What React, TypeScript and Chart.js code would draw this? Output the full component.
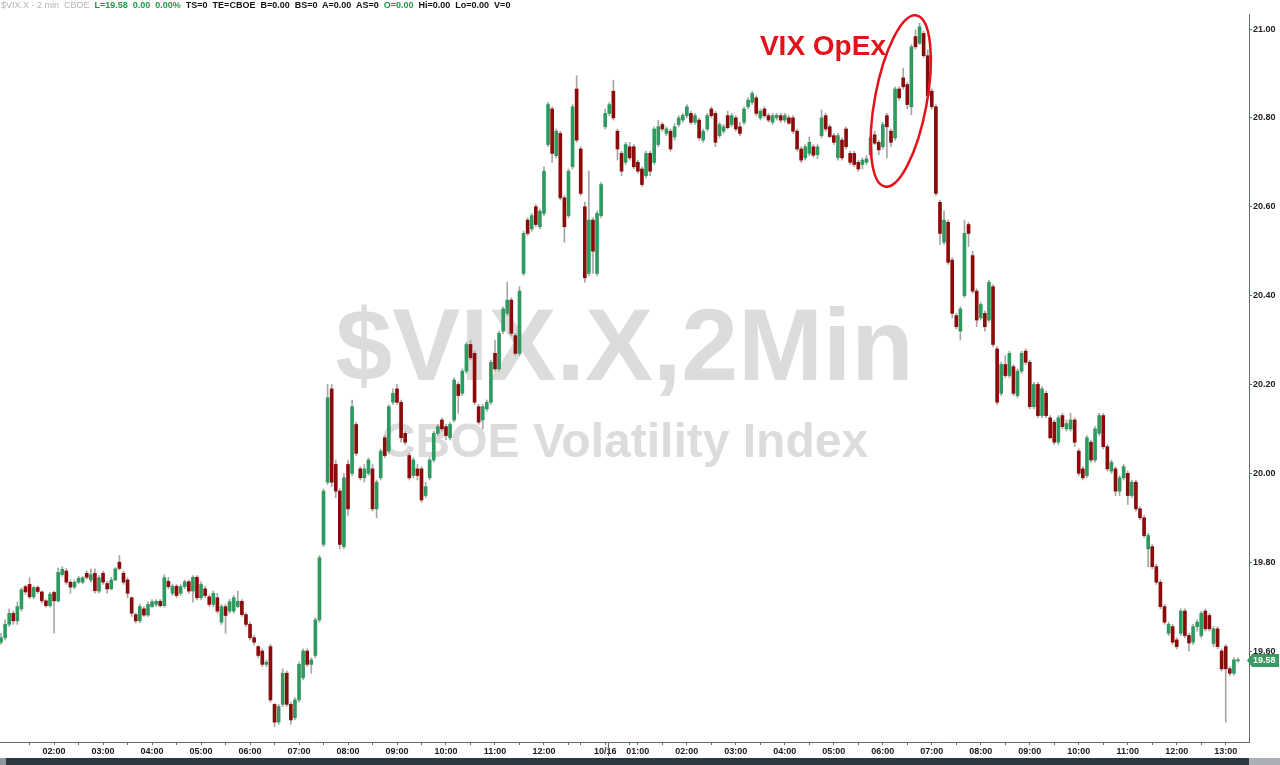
import React, { useEffect, useRef } from 'react';
import { Chart, registerables } from 'chart.js';

Chart.register(...registerables);

// ---- data: 5-minute candles (index 0 = 10/15 00:55, index 148 = 10/16 00:20) ----
const opens = [
  19.62, 19.63, 19.66, 19.685, 19.668, 19.695, 19.745, 19.75, 19.722, 19.743,
  19.733, 19.713, 19.702, 19.732, 19.713, 19.772, 19.78, 19.755, 19.744, 19.755,
  19.755, 19.775, 19.76, 19.775, 19.735, 19.775, 19.752, 19.74, 19.76, 19.80,
  19.775, 19.76, 19.72, 19.682, 19.668, 19.695, 19.681, 19.70, 19.705, 19.712,
  19.702, 19.757, 19.73, 19.746, 19.73, 19.745, 19.756, 19.735, 19.766, 19.72,
  19.74, 19.722, 19.705, 19.72, 19.665, 19.70, 19.69, 19.69, 19.70, 19.712,
  19.682, 19.66, 19.63, 19.61, 19.60, 19.57, 19.61, 19.48, 19.44, 19.48,
  19.55, 19.48, 19.45, 19.49, 19.54, 19.60, 19.57, 19.59, 19.67, 19.84,
  19.98, 20.19, 20.02, 19.96, 19.835, 20.02, 20.0, 20.11, 20.01, 19.99,
  20.0, 20.01, 19.92, 19.99, 20.08, 20.05, 20.16, 20.19, 20.16, 20.09,
  20.04, 19.995, 20.01, 20.01, 19.95, 19.99, 20.03, 20.09, 20.12, 20.105,
  20.08, 20.12, 20.20, 20.18, 20.23, 20.29, 20.27, 20.15, 20.12, 20.145,
  20.16, 20.27, 20.235, 20.32, 20.36, 20.39, 20.31, 20.27, 20.45, 20.57,
  20.55, 20.60, 20.555, 20.585, 20.74, 20.82, 20.715, 20.765, 20.62, 20.58,
  20.69, 20.865, 20.73, 20.60, 20.45, 20.57, 20.45, 20.58, 20.78, 20.81,
  20.86, 20.77, 20.72, 20.70, 20.735, 20.735, 20.70, 20.685, 20.67, 20.72,
  20.70, 20.74, 20.785, 20.765, 20.77, 20.757, 20.785, 20.795, 20.805, 20.81,
  20.79, 20.795, 20.75, 20.775, 20.82, 20.81, 20.76, 20.77, 20.805, 20.785,
  20.80, 20.78, 20.79, 20.825, 20.835, 20.845, 20.80, 20.82, 20.805, 20.79,
  20.80, 20.805, 20.795, 20.80, 20.80, 20.77, 20.73, 20.71, 20.72, 20.735,
  20.717, 20.76, 20.805, 20.78, 20.76, 20.71, 20.75, 20.775, 20.72, 20.72,
  20.70, 20.695, 20.70, 20.717, 20.762, 20.745, 20.735, 20.805, 20.77, 20.755,
  20.865, 20.89, 20.875, 20.825, 20.983, 20.968, 20.99, 20.94, 20.86, 20.825,
  20.61, 20.52, 20.565, 20.48, 20.355, 20.32, 20.40, 20.56, 20.49, 20.41,
  20.35, 20.36, 20.345, 20.42, 20.28, 20.18, 20.245, 20.22, 20.24, 20.175,
  20.23, 20.275, 20.25, 20.15, 20.20, 20.13, 20.18, 20.125, 20.115, 20.07,
  20.13, 20.10, 20.10, 20.12, 20.05, 20.01, 19.995, 20.07, 20.03, 20.09,
  20.13, 20.06, 20.005, 20.01, 19.96, 19.99, 20.0, 19.95, 19.98, 19.92,
  19.90, 19.83, 19.835, 19.79, 19.755, 19.70, 19.64, 19.655, 19.625, 19.64,
  19.69, 19.635, 19.62, 19.655, 19.635, 19.69, 19.68, 19.617, 19.65, 19.60,
  19.61, 19.56, 19.55, 19.578,
];

const highs = [
  19.64, 19.67, 19.695, 19.69, 19.71, 19.742, 19.748, 19.765, 19.746, 19.747,
  19.735, 19.716, 19.732, 19.735, 19.787, 19.79, 19.786, 19.76, 19.76, 19.768,
  19.768, 19.78, 19.785, 19.785, 19.77, 19.78, 19.757, 19.766, 19.788, 19.815,
  19.78, 19.765, 19.722, 19.686, 19.706, 19.70, 19.711, 19.716, 19.716, 19.716,
  19.772, 19.766, 19.75, 19.75, 19.75, 19.76, 19.76, 19.77, 19.77, 19.756,
  19.746, 19.726, 19.735, 19.73, 19.705, 19.705, 19.716, 19.725, 19.735, 19.716,
  19.686, 19.665, 19.635, 19.612, 19.605, 19.58, 19.615, 19.482, 19.48, 19.56,
  19.555, 19.485, 19.495, 19.575, 19.605, 19.605, 19.585, 19.675, 19.815, 19.965,
  20.20, 20.20, 20.03, 19.965, 20.0, 20.03, 20.165, 20.115, 20.015, 20.02,
  20.035, 20.02, 19.985, 20.055, 20.085, 20.155, 20.19, 20.20, 20.165, 20.095,
  20.045, 20.035, 20.02, 20.015, 19.98, 20.035, 20.095, 20.11, 20.125, 20.11,
  20.115, 20.215, 20.205, 20.235, 20.295, 20.30, 20.275, 20.155, 20.155, 20.165,
  20.255, 20.30, 20.32, 20.375, 20.43, 20.395, 20.315, 20.42, 20.545, 20.575,
  20.585, 20.605, 20.595, 20.69, 20.835, 20.825, 20.775, 20.77, 20.625, 20.685,
  20.83, 20.895, 20.735, 20.61, 20.68, 20.575, 20.59, 20.655, 20.82, 20.835,
  20.885, 20.775, 20.725, 20.745, 20.745, 20.74, 20.705, 20.69, 20.725, 20.725,
  20.78, 20.795, 20.79, 20.78, 20.775, 20.787, 20.805, 20.81, 20.83, 20.815,
  20.81, 20.80, 20.775, 20.81, 20.825, 20.815, 20.79, 20.785, 20.815, 20.81,
  20.805, 20.79, 20.825, 20.845, 20.86, 20.85, 20.82, 20.825, 20.81, 20.81,
  20.81, 20.81, 20.81, 20.805, 20.805, 20.775, 20.735, 20.74, 20.757, 20.74,
  20.74, 20.818, 20.81, 20.785, 20.765, 20.765, 20.755, 20.78, 20.725, 20.725,
  20.705, 20.71, 20.715, 20.76, 20.77, 20.75, 20.79, 20.81, 20.775, 20.87,
  20.87, 20.912, 20.88, 20.965, 20.998, 21.013, 20.995, 20.953, 20.865, 20.83,
  20.615, 20.59, 20.57, 20.485, 20.36, 20.375, 20.57, 20.565, 20.50, 20.415,
  20.385, 20.365, 20.435, 20.425, 20.285, 20.25, 20.265, 20.275, 20.245, 20.235,
  20.275, 20.28, 20.255, 20.205, 20.205, 20.195, 20.185, 20.13, 20.12, 20.13,
  20.135, 20.12, 20.135, 20.125, 20.055, 20.015, 20.085, 20.075, 20.105, 20.135,
  20.135, 20.065, 20.03, 20.015, 19.995, 20.02, 20.005, 19.985, 19.985, 19.925,
  19.905, 19.865, 19.84, 19.795, 19.76, 19.705, 19.665, 19.66, 19.63, 19.695,
  19.695, 19.64, 19.66, 19.67, 19.69, 19.695, 19.685, 19.655, 19.655, 19.605,
  19.615, 19.565, 19.585, 19.585,
];

const lows = [
  19.615, 19.625, 19.655, 19.66, 19.66, 19.69, 19.728, 19.718, 19.718, 19.73,
  19.708, 19.699, 19.699, 19.64, 19.71, 19.768, 19.75, 19.73, 19.74, 19.752,
  19.752, 19.762, 19.755, 19.73, 19.73, 19.75, 19.73, 19.738, 19.758, 19.782,
  19.75, 19.72, 19.678, 19.663, 19.664, 19.678, 19.678, 19.698, 19.70, 19.699,
  19.699, 19.74, 19.725, 19.72, 19.725, 19.74, 19.73, 19.71, 19.715, 19.715,
  19.72, 19.70, 19.70, 19.685, 19.66, 19.64, 19.685, 19.685, 19.698, 19.678,
  19.655, 19.625, 19.614, 19.585, 19.565, 19.565, 19.485, 19.43, 19.435, 19.475,
  19.475, 19.435, 19.445, 19.485, 19.535, 19.565, 19.55, 19.585, 19.665, 19.835,
  19.975, 19.97, 19.945, 19.83, 19.83, 19.905, 19.995, 20.04, 19.985, 19.98,
  19.995, 19.915, 19.90, 19.985, 20.035, 20.045, 20.155, 20.155, 20.07, 20.065,
  19.985, 19.99, 19.985, 19.935, 19.945, 19.985, 20.025, 20.085, 20.095, 20.075,
  20.075, 20.115, 20.135, 20.175, 20.225, 20.255, 20.155, 20.11, 20.10, 20.14,
  20.155, 20.23, 20.23, 20.315, 20.355, 20.31, 20.265, 20.265, 20.445, 20.535,
  20.545, 20.555, 20.55, 20.58, 20.735, 20.70, 20.71, 20.615, 20.52, 20.575,
  20.685, 20.745, 20.625, 20.43, 20.445, 20.45, 20.445, 20.575, 20.775, 20.805,
  20.795, 20.705, 20.67, 20.695, 20.705, 20.685, 20.675, 20.645, 20.665, 20.67,
  20.695, 20.735, 20.77, 20.76, 20.725, 20.75, 20.78, 20.79, 20.80, 20.785,
  20.785, 20.75, 20.745, 20.77, 20.80, 20.735, 20.755, 20.765, 20.775, 20.78,
  20.77, 20.76, 20.785, 20.82, 20.83, 20.805, 20.795, 20.80, 20.79, 20.785,
  20.795, 20.79, 20.79, 20.785, 20.765, 20.725, 20.70, 20.705, 20.715, 20.712,
  20.708, 20.755, 20.77, 20.755, 20.74, 20.705, 20.705, 20.73, 20.695, 20.69,
  20.68, 20.685, 20.695, 20.712, 20.74, 20.717, 20.73, 20.71, 20.735, 20.75,
  20.84, 20.865, 20.82, 20.807, 20.955, 20.965, 20.935, 20.845, 20.82, 20.625,
  20.515, 20.515, 20.47, 20.35, 20.325, 20.30, 20.395, 20.51, 20.405, 20.33,
  20.345, 20.32, 20.34, 20.285, 20.155, 20.175, 20.215, 20.215, 20.175, 20.17,
  20.225, 20.245, 20.145, 20.145, 20.125, 20.125, 20.125, 20.078, 20.065, 20.065,
  20.10, 20.095, 20.095, 20.06, 19.995, 19.985, 19.99, 20.025, 20.025, 20.085,
  20.055, 20.005, 20.0, 19.95, 19.95, 19.985, 19.93, 19.945, 19.915, 19.895,
  19.855, 19.79, 19.785, 19.75, 19.695, 19.66, 19.635, 19.615, 19.605, 19.635,
  19.63, 19.60, 19.615, 19.645, 19.63, 19.645, 19.645, 19.61, 19.605, 19.555,
  19.44, 19.545, 19.545, 19.575,
];

const closes = [
  19.63, 19.66, 19.685, 19.668, 19.70, 19.738, 19.733, 19.722, 19.743, 19.734,
  19.713, 19.702, 19.728, 19.713, 19.777, 19.784, 19.755, 19.744, 19.755, 19.764,
  19.765, 19.766, 19.772, 19.736, 19.765, 19.755, 19.74, 19.76, 19.785, 19.786,
  19.755, 19.73, 19.685, 19.668, 19.70, 19.681, 19.705, 19.711, 19.712, 19.702,
  19.765, 19.745, 19.746, 19.725, 19.745, 19.756, 19.735, 19.766, 19.72, 19.75,
  19.725, 19.705, 19.73, 19.69, 19.70, 19.68, 19.711, 19.72, 19.712, 19.682,
  19.66, 19.63, 19.62, 19.59, 19.57, 19.575, 19.49, 19.44, 19.475, 19.55,
  19.48, 19.445, 19.49, 19.57, 19.60, 19.57, 19.58, 19.67, 19.81, 19.96,
  20.17, 19.98, 19.96, 19.84, 19.99, 19.92, 20.15, 20.045, 19.99, 20.01,
  20.03, 19.92, 19.98, 20.05, 20.04, 20.15, 20.18, 20.16, 20.08, 20.07,
  19.99, 20.03, 19.995, 19.94, 19.97, 20.03, 20.09, 20.105, 20.10, 20.085,
  20.11, 20.21, 20.175, 20.23, 20.29, 20.26, 20.16, 20.115, 20.15, 20.16,
  20.25, 20.235, 20.315, 20.37, 20.39, 20.315, 20.27, 20.41, 20.54, 20.54,
  20.58, 20.56, 20.59, 20.68, 20.83, 20.72, 20.77, 20.62, 20.555, 20.68,
  20.825, 20.75, 20.63, 20.44, 20.57, 20.50, 20.585, 20.65, 20.81, 20.83,
  20.80, 20.73, 20.68, 20.74, 20.71, 20.69, 20.68, 20.65, 20.72, 20.68,
  20.775, 20.78, 20.775, 20.775, 20.73, 20.78, 20.80, 20.806, 20.825, 20.79,
  20.805, 20.755, 20.77, 20.805, 20.805, 20.745, 20.785, 20.78, 20.778, 20.805,
  20.775, 20.765, 20.82, 20.84, 20.855, 20.81, 20.815, 20.805, 20.795, 20.805,
  20.806, 20.795, 20.805, 20.788, 20.77, 20.73, 20.705, 20.735, 20.745, 20.716,
  20.735, 20.80, 20.775, 20.758, 20.745, 20.76, 20.71, 20.735, 20.70, 20.695,
  20.685, 20.705, 20.708, 20.755, 20.743, 20.728, 20.785, 20.78, 20.745, 20.865,
  20.845, 20.87, 20.83, 20.96, 20.96, 21.005, 20.94, 20.85, 20.825, 20.63,
  20.54, 20.57, 20.475, 20.36, 20.33, 20.37, 20.54, 20.54, 20.41, 20.345,
  20.38, 20.33, 20.43, 20.29, 20.16, 20.245, 20.22, 20.27, 20.18, 20.23,
  20.27, 20.25, 20.15, 20.20, 20.13, 20.19, 20.13, 20.08, 20.07, 20.125,
  20.105, 20.112, 20.12, 20.07, 20.0, 19.99, 20.08, 20.03, 20.10, 20.13,
  20.06, 20.01, 20.025, 19.96, 19.99, 20.015, 19.95, 19.98, 19.92, 19.90,
  19.86, 19.86, 19.79, 19.755, 19.70, 19.665, 19.66, 19.62, 19.61, 19.69,
  19.635, 19.618, 19.655, 19.665, 19.685, 19.65, 19.65, 19.65, 19.61, 19.56,
  19.56, 19.55, 19.58, 19.58,
];

// time-axis labels and the candle index at which each one falls
const tickLabels = [
  '02:00', '03:00', '04:00', '05:00', '06:00', '07:00', '08:00', '09:00', '10:00', '11:00', '12:00',
  '10/16', '01:00', '02:00', '03:00', '04:00', '05:00', '06:00', '07:00', '08:00', '09:00', '10:00',
  '11:00', '12:00', '13:00',
];
const tickBars = [13, 25, 37, 49, 61, 73, 85, 97, 109, 121, 133, 148, 156, 168, 180, 192, 204, 216, 228, 240, 252, 264, 276, 288, 300];
const dayBreakBar = 148;

const yTicks = [19.6, 19.8, 20.0, 20.2, 20.4, 20.6, 20.8, 21.0];

const watermarkTitle = '$VIX.X,2Min';
const watermarkSubtitle = 'CBOE Volatility Index';
const annotationText = 'VIX OpEx';
const annotationTextAt = { x: 185.9, y: 20.9415 };
const annotationEllipseAt = { x: 220.4, y: 20.838 };

const UP = '#2f9a5f';
const DOWN = '#8b0a0a';
const WICK = '#a6a6a6';
const AXIS = '#62706f';
const FONT = '"Liberation Sans", Arial, sans-serif';

export default function App() {
  const canvasRef = useRef<HTMLCanvasElement | null>(null);

  useEffect(() => {
    const canvas = canvasRef.current;
    if (!canvas) return;

    const maxBar = opens.length + 1.7;
    const minorTicks: number[] = [];
    tickBars.forEach((t) => {
      [t - 6, t + 6].forEach((v) => {
        if (v >= 0 && v <= opens.length + 1 && !tickBars.includes(v) && Math.abs(v - dayBreakBar) > 3 && !minorTicks.includes(v)) {
          minorTicks.push(v);
        }
      });
    });
    const allXTicks = [...tickBars, ...minorTicks].sort((a, b) => a - b);

    const bodyColors = opens.map((o, i) => (closes[i] >= o ? UP : DOWN));

    const backgroundPlugin = {
      id: 'watermark',
      beforeDatasetsDraw(chart: any) {
        const { ctx, chartArea } = chart;
        const cx = (chartArea.left + chartArea.right) / 2;
        const cy = (chartArea.top + chartArea.bottom) / 2;
        ctx.save();
        ctx.fillStyle = '#dcdcdc';
        ctx.textAlign = 'center';
        ctx.textBaseline = 'alphabetic';
        ctx.font = `bold 102px ${FONT}`;
        ctx.fillText(watermarkTitle, cx, cy + 2);
        ctx.font = `bold 48px ${FONT}`;
        ctx.fillText(watermarkSubtitle, cx, cy + 79);
        ctx.restore();
      },
    };

    const overlayPlugin = {
      id: 'overlay',
      afterDatasetsDraw(chart: any) {
        const { ctx } = chart;
        const xs = chart.scales.x;
        const ys = chart.scales.y;
        ctx.save();
        // annotation ellipse
        ctx.strokeStyle = '#e3131b';
        ctx.lineWidth = 2.5;
        ctx.beginPath();
        ctx.ellipse(
          xs.getPixelForValue(annotationEllipseAt.x),
          ys.getPixelForValue(annotationEllipseAt.y),
          26, 87, 0.183, 0, Math.PI * 2
        );
        ctx.stroke();
        // annotation text
        ctx.fillStyle = '#e3131b';
        ctx.font = `bold 28px ${FONT}`;
        ctx.textAlign = 'left';
        ctx.textBaseline = 'alphabetic';
        ctx.fillText(annotationText, xs.getPixelForValue(annotationTextAt.x), ys.getPixelForValue(annotationTextAt.y));
        ctx.restore();
      },
      afterDraw(chart: any) {
        const { ctx, chartArea, width, height } = chart;
        const xs = chart.scales.x;
        const ys = chart.scales.y;
        ctx.save();
        // last price marker
        const last = closes[closes.length - 1];
        const py = Math.round(ys.getPixelForValue(last)) + 0.5;
        const x0 = chartArea.right - 2;
        ctx.fillStyle = '#3a9b62';
        ctx.beginPath();
        ctx.moveTo(x0, py);
        ctx.lineTo(x0 + 5, py - 6.5);
        ctx.lineTo(width - 1, py - 6.5);
        ctx.lineTo(width - 1, py + 6.5);
        ctx.lineTo(x0 + 5, py + 6.5);
        ctx.closePath();
        ctx.fill();
        ctx.fillStyle = '#ffffff';
        ctx.font = `bold 9px ${FONT}`;
        ctx.textAlign = 'left';
        ctx.textBaseline = 'middle';
        ctx.fillText(last.toFixed(2), x0 + 6, py + 0.5);
        // day break divider in the time axis
        const dx = Math.round(xs.getPixelForValue(dayBreakBar + 0.8)) + 0.5;
        ctx.strokeStyle = AXIS;
        ctx.lineWidth = 1;
        ctx.beginPath();
        ctx.moveTo(dx, chartArea.bottom);
        ctx.lineTo(dx, chartArea.bottom + 14);
        ctx.stroke();
        // bottom scroll bar
        ctx.fillStyle = '#2e3842';
        ctx.fillRect(0, height - 7, chartArea.right, 7);
        ctx.fillStyle = '#a9afb4';
        ctx.fillRect(chartArea.right, height - 7, width - chartArea.right, 7);
        ctx.fillStyle = '#8f969c';
        ctx.fillRect(0, height - 7, 6, 7);
        ctx.restore();
      },
    };

    const chart = new Chart(canvas, {
      type: 'bar',
      data: {
        datasets: [
          {
            label: 'body',
            data: opens.map((o, i) => ({ x: i, y: [o, closes[i]] })) as any,
            backgroundColor: bodyColors,
            borderWidth: 0,
            barThickness: 3,
            minBarLength: 1,
            grouped: false,
            order: 1,
          },
          {
            label: 'wick',
            data: lows.map((l, i) => ({ x: i, y: [l, highs[i]] })) as any,
            backgroundColor: WICK,
            borderWidth: 0,
            barThickness: 1,
            grouped: false,
            order: 2,
          },
        ],
      },
      options: {
        responsive: true,
        maintainAspectRatio: false,
        animation: false,
        devicePixelRatio: 1,
        events: [],
        layout: { padding: { top: 14, left: 0, right: 0, bottom: 0 } },
        plugins: {
          legend: { display: false },
          tooltip: { enabled: false },
          title: { display: false },
        },
        scales: {
          x: {
            type: 'linear',
            min: -0.25,
            max: maxBar,
            offset: false,
            afterBuildTicks: (scale: any) => {
              scale.ticks = allXTicks.map((v) => ({ value: v }));
            },
            afterFit: (scale: any) => {
              scale.height = 23;
            },
            ticks: {
              autoSkip: false,
              maxRotation: 0,
              padding: 1,
              color: '#1a1a1a',
              font: { family: FONT, size: 9, weight: 'bold' },
              callback: (v: any) => {
                const idx = tickBars.indexOf(Number(v));
                return idx >= 0 ? tickLabels[idx] : '';
              },
            },
            grid: { drawOnChartArea: false, drawTicks: true, tickLength: 3, color: AXIS, offset: false },
            border: { display: true, color: AXIS, width: 1 },
          },
          y: {
            type: 'linear',
            position: 'right',
            min: 19.3953,
            max: 21.0338,
            afterBuildTicks: (scale: any) => {
              scale.ticks = yTicks.map((v) => ({ value: v }));
            },
            afterFit: (scale: any) => {
              scale.width = 31;
            },
            ticks: {
              padding: 1,
              color: '#222222',
              font: { family: FONT, size: 9, weight: 'bold' },
              callback: (v: any) => Number(v).toFixed(2),
            },
            grid: { drawOnChartArea: false, drawTicks: true, tickLength: 3, color: AXIS },
            border: { display: true, color: AXIS, width: 1 },
          },
        },
      } as any,
      plugins: [backgroundPlugin, overlayPlugin],
    });

    return () => {
      chart.destroy();
    };
  }, []);

  return (
    <div style={{ position: 'fixed', left: 0, top: 0, width: 1280, height: 765, background: '#ffffff', overflow: 'hidden' }}>
      <canvas ref={canvasRef} style={{ display: 'block', width: 1280, height: 765 }} />
      <div
        style={{
          position: 'absolute',
          left: 1,
          top: 0,
          fontFamily: FONT,
          fontSize: 9,
          fontWeight: 'bold',
          lineHeight: '11px',
          whiteSpace: 'pre',
        }}
      >
        <span style={{ color: '#b4b4b4', fontWeight: 'normal' }}>{'$VIX.X - 2 min  CBOE  '}</span>
        <span style={{ color: '#1e9a48' }}>{'L=19.58  0.00  0.00%  '}</span>
        <span style={{ color: '#111111' }}>{'TS=0  TE=CBOE  B=0.00  BS=0  A=0.00  AS=0  '}</span>
        <span style={{ color: '#1e9a48' }}>{'O=0.00  '}</span>
        <span style={{ color: '#111111' }}>{'Hi=0.00  Lo=0.00  V=0'}</span>
      </div>
    </div>
  );
}
